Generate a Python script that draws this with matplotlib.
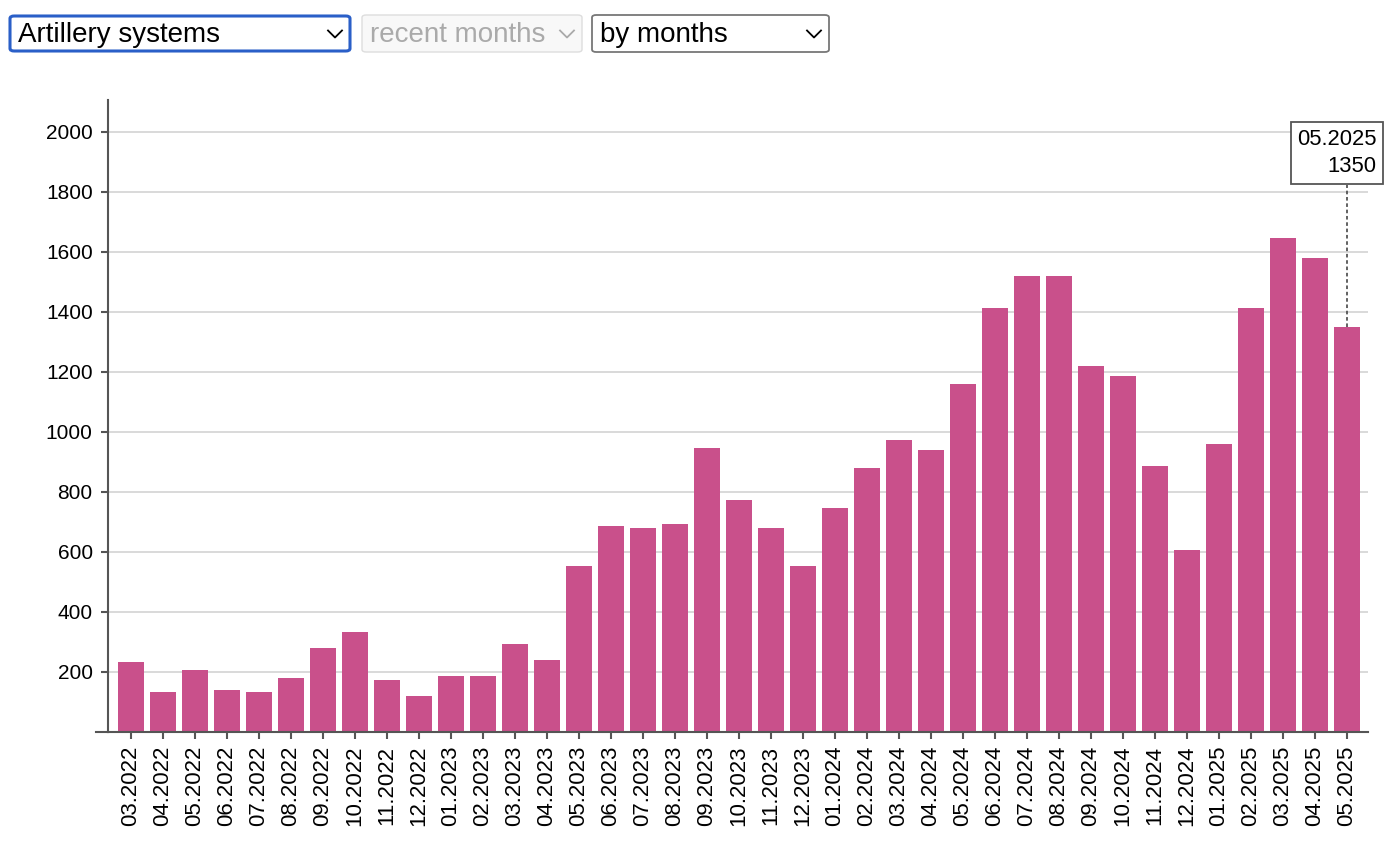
import numpy as np
import matplotlib
matplotlib.use('Agg')
from matplotlib import pyplot as plt
from matplotlib.patches import FancyBboxPatch
from matplotlib.lines import Line2D

# months and counts
months = ['03.2022', '04.2022', '05.2022', '06.2022', '07.2022', '08.2022', '09.2022',
          '10.2022', '11.2022', '12.2022', '01.2023', '02.2023', '03.2023', '04.2023',
          '05.2023', '06.2023', '07.2023', '08.2023', '09.2023', '10.2023', '11.2023',
          '12.2023', '01.2024', '02.2024', '03.2024', '04.2024', '05.2024', '06.2024',
          '07.2024', '08.2024', '09.2024', '10.2024', '11.2024', '12.2024', '01.2025',
          '02.2025', '03.2025', '04.2025', '05.2025']
counts = [232, 132, 206, 139, 132, 179, 279, 332, 172, 119, 186, 186, 292, 239,
          552, 686, 679, 692, 946, 772, 679, 552, 746, 879, 972, 939, 1159, 1412,
          1519, 1519, 1219, 1186, 886, 607, 959, 1412, 1646, 1579, 1350]
yticks = [200, 400, 600, 800, 1000, 1200, 1400, 1600, 1800, 2000]

dropdowns = ['Artillery systems', 'recent months', 'by months']

BAR_COLOR = '#C9508B'
AXIS_COLOR = '#555555'
W, H = 1396, 842

plt.rcParams['font.family'] = ['Liberation Sans', 'DejaVu Sans']

fig = plt.figure(figsize=(W / 100, H / 100), dpi=100)

def fx(x):
    return x / W

def fy(y):
    return 1 - y / H

ax = fig.add_axes([fx(108), fy(732), fx(1368) - fx(108), fy(100) - fy(732)])

x = np.arange(len(months))
ax.bar(x, counts, width=0.8125, color=BAR_COLOR, zorder=2)

ax.set_xlim(-0.71875, 38.656)
ax.set_ylim(0, 2106)
ax.set_yticks(yticks)
ax.set_yticklabels([str(v) for v in yticks])
ax.set_xticks(x)
ax.set_xticklabels(months, rotation=90, va='top')

ax.yaxis.grid(True, color='#d3d3d3', linewidth=1.2, zorder=0)
ax.set_axisbelow(True)
for s in ['top', 'right']:
    ax.spines[s].set_visible(False)
for s in ['left', 'bottom']:
    ax.spines[s].set_color(AXIS_COLOR)
    ax.spines[s].set_linewidth(1.5)
ax.tick_params(axis='both', colors=AXIS_COLOR, length=5, width=1.5, labelcolor='black')
ax.tick_params(axis='y', labelsize=15, pad=6)
ax.tick_params(axis='x', labelsize=16, pad=5)

# d3-style outer tick on the x domain
ax.add_line(Line2D([-12 / 1260, 0], [0, 0], transform=ax.transAxes, color=AXIS_COLOR,
                   linewidth=1.5, clip_on=False))

# tooltip for the last bar
last = len(months) - 1
box_bottom = counts[last] + (326 - 184) / 0.3
ax.plot([last, last], [counts[last], box_bottom], color=AXIS_COLOR, linewidth=1.3,
        linestyle=(0, (2, 1.5)), zorder=3)
ax.annotate(f'{months[last]}\n{counts[last]}', xy=(last, counts[last]),
            xytext=(-10, 174), textcoords='offset pixels', ha='center', va='center',
            multialignment='right', fontsize=15.8, linespacing=1.4, zorder=4,
            bbox=dict(boxstyle='square,pad=0.3', fc='white', ec=AXIS_COLOR, lw=1.3))

# dropdown widgets at the top
boxes = [(10, 16, 340, 35, '#2A5FC8', 'white', 'black', 2.2),
         (362, 15, 220, 37, '#dddddd', '#f8f8f8', '#aaaaaa', 1.0),
         (592, 15, 237, 37, '#777777', 'white', 'black', 1.3)]
for (bx, by, bw, bh, ec, fc, tc, lw), label in zip(boxes, dropdowns):
    fig.patches.append(FancyBboxPatch((fx(bx), fy(by + bh)), fx(bw), bh / H,
                                      boxstyle='round,pad=0,rounding_size=0.003',
                                      transform=fig.transFigure, ec=ec, fc=fc, lw=lw))
    fig.text(fx(bx + 8), fy(by + bh / 2 + 1), label, color=tc, fontsize=20,
             ha='left', va='center')
    cx = bx + bw - 15
    cy = by + bh / 2
    fig.add_artist(Line2D([fx(cx - 7), fx(cx), fx(cx + 7)], [fy(cy - 3), fy(cy + 4), fy(cy - 3)],
                          transform=fig.transFigure, color=tc, linewidth=1.3))

fig.savefig('out.png', dpi=100)
